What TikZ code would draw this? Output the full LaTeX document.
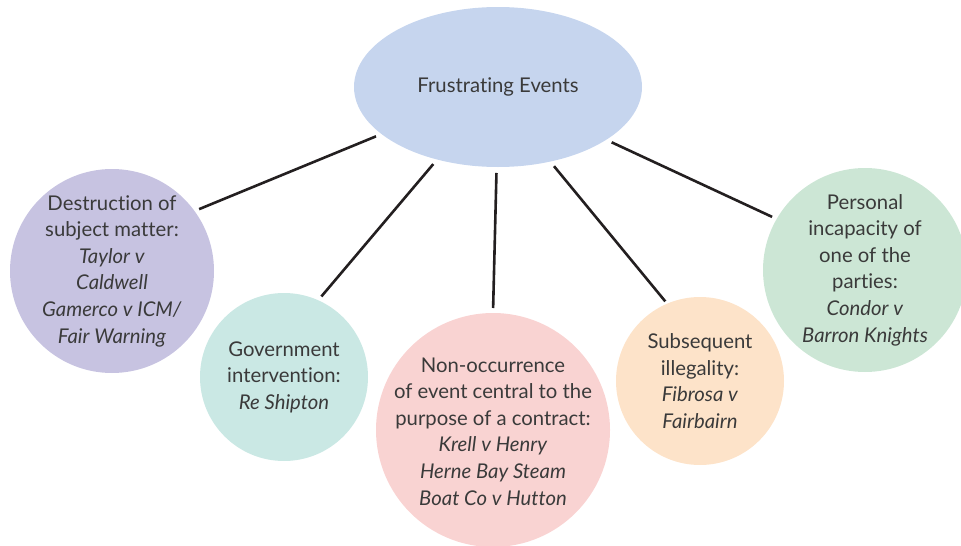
\documentclass[tikz,border=0pt]{standalone}
\usepackage{fontspec}
\setmainfont{Lato}[Ligatures=NoCommon]
\usetikzlibrary{shapes.geometric}
\definecolor{hubblue}{HTML}{C6D5EE}
\definecolor{lilac}{HTML}{C7C3E1}
\definecolor{mint}{HTML}{CAE8E4}
\definecolor{blush}{HTML}{F9D3D2}
\definecolor{peach}{HTML}{FDE3C9}
\definecolor{sage}{HTML}{CCE6D5}
\definecolor{ink}{HTML}{3A3A3A}
\definecolor{linkcol}{HTML}{231F20}
\tikzset{
  bubble/.style={circle, inner sep=0pt, outer sep=0pt},
  caption/.style={inner sep=0pt, align=center, text=ink,
    font=\fontsize{20.3}{26.6}\selectfont},
  hub/.style={ellipse, inner sep=0pt, outer sep=0pt, minimum width=288pt,
    minimum height=160pt, fill=hubblue, text=ink, font=\fontsize{20.3}{26.6}\selectfont},
  link/.style={draw=linkcol, line width=2.6pt, shorten <=6pt, shorten >=5pt}
}
\begin{document}
\begin{tikzpicture}[x=1pt, y=-1pt]
  \useasboundingbox (0,0) rectangle (961,546);

  % central topic
  \node[hub] (hub) at (498,87) {Frustrating Events};

  % five category discs
  \node[bubble, minimum size=204pt, fill=lilac] (destr) at (112,271) {};
  \node[bubble, minimum size=168pt, fill=mint] (gov) at (284,377) {};
  \node[bubble, minimum size=234pt, fill=blush] (nonocc) at (493,430) {};
  \node[bubble, minimum size=168pt, fill=peach] (illeg) at (700,381) {};
  \node[bubble, minimum size=204pt, fill=sage] (pers) at (865,270) {};

  % their texts
  \node[caption] (destr-t) at (destr.center)
    {Destruction of\\subject matter:\\\textit{Taylor v}\\\textit{Caldwell}\\\textit{Gamerco v ICM/}\\\textit{Fair Warning}};
  \node[caption] (gov-t) at (gov.center)
    {Government\\intervention:\\\textit{Re Shipton}};
  \node[caption] (nonocc-t) at ([yshift=-1.5pt]nonocc.center)
    {Non-occurrence\\of event central to the\\purpose of a contract:\\\textit{Krell v Henry}\\\textit{Herne Bay Steam}\\\textit{Boat Co v Hutton}};
  \node[caption] (illeg-t) at (illeg.center)
    {Subsequent\\illegality:\\\textit{Fibrosa v}\\\textit{Fairbairn}};
  \node[caption] (pers-t) at (pers.center)
    {Personal\\incapacity of\\one of the\\parties:\\\textit{Condor v}\\\textit{Barron Knights}};

  % spokes
  \draw[link] (hub.202.5) -- (destr.36.3);
  \draw[link] (hub.230.6) -- (gov.66);
  \draw[link] (hub.269.3) -- (nonocc.90.5);
  \draw[link, shorten >=3pt] (hub.305) -- (illeg.113.9);
  \draw[link] (hub.334.8) -- (pers.150.3);
\end{tikzpicture}
\end{document}
